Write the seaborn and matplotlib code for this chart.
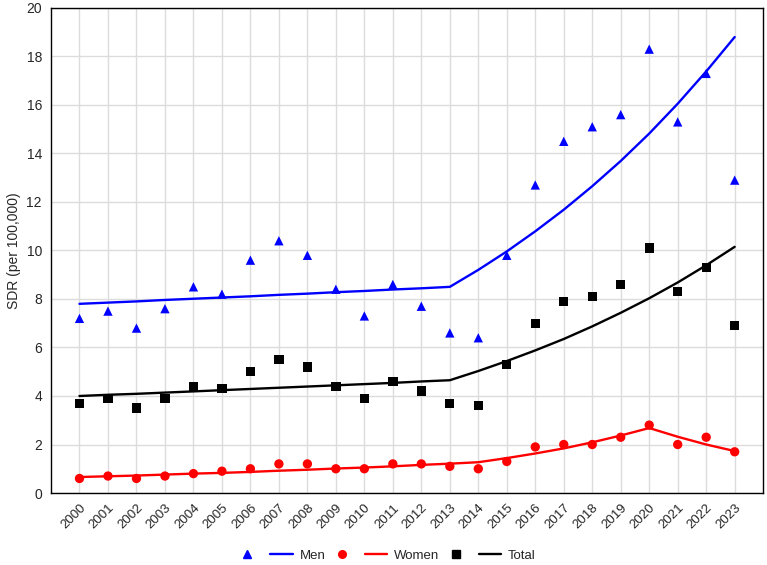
import numpy as np
import pandas as pd
import seaborn as sns
import matplotlib.pyplot as plt
from matplotlib.lines import Line2D

years = list(range(2000, 2024))

# observed SDR values
men = [7.2, 7.5, 6.8, 7.6, 8.5, 8.2, 9.6, 10.4, 9.8, 8.4, 7.3, 8.6,
       7.7, 6.6, 6.4, 9.8, 12.7, 14.5, 15.1, 15.6, 18.3, 15.3, 17.3, 12.9]
women = [0.6, 0.7, 0.6, 0.7, 0.8, 0.9, 1.0, 1.2, 1.2, 1.0, 1.0, 1.2,
         1.2, 1.1, 1.0, 1.3, 1.9, 2.0, 2.0, 2.3, 2.8, 2.0, 2.3, 1.7]
total = [3.7, 3.9, 3.5, 3.9, 4.4, 4.3, 5.0, 5.5, 5.2, 4.4, 3.9, 4.6,
         4.2, 3.7, 3.6, 5.3, 7.0, 7.9, 8.1, 8.6, 10.1, 8.3, 9.3, 6.9]

# fitted (joinpoint) values
men_fit = [7.80, 7.85, 7.90, 7.96, 8.01, 8.06, 8.11, 8.17, 8.22, 8.28, 8.33, 8.39,
           8.44, 8.50, 9.20, 9.96, 10.79, 11.68, 12.65, 13.69, 14.82, 16.05, 17.38, 18.80]
women_fit = [0.66, 0.69, 0.72, 0.76, 0.80, 0.83, 0.87, 0.92, 0.96, 1.01, 1.05, 1.10,
             1.16, 1.21, 1.27, 1.44, 1.63, 1.84, 2.09, 2.37, 2.68, 2.32, 2.00, 1.73]
total_fit = [4.00, 4.05, 4.09, 4.14, 4.19, 4.24, 4.29, 4.34, 4.39, 4.44, 4.49, 4.54,
             4.60, 4.65, 5.03, 5.44, 5.88, 6.35, 6.87, 7.43, 8.03, 8.68, 9.39, 10.15]

groups = ["Men", "Women", "Total"]
colors = {"Men": "#0000FF", "Women": "#FF0000", "Total": "#000000"}
markers = {"Men": "^", "Women": "o", "Total": "s"}

df = pd.DataFrame({
    "Year": years * 3,
    "Group": np.repeat(groups, len(years)),
    "SDR": men + women + total,
    "Fit": men_fit + women_fit + total_fit,
})

sns.set_style("white")
plt.rcParams["font.family"] = ["Liberation Sans", "DejaVu Sans"]

fig = plt.figure(figsize=(7.67, 5.65), dpi=100)
ax = fig.add_axes([0.0665, 0.1274, 0.9285, 0.8586])

sns.scatterplot(data=df, x="Year", y="SDR", hue="Group", style="Group",
                palette=colors, markers=markers, s=45, edgecolor="none",
                legend=False, ax=ax, zorder=3)
sns.lineplot(data=df, x="Year", y="Fit", hue="Group", palette=colors,
             linewidth=1.7, legend=False, ax=ax, zorder=2)

ax.set_xlim(1999, 2024)
ax.set_ylim(0, 20)
ax.set_xticks(years)
ax.set_xticklabels([str(y) for y in years], rotation=45, ha="right",
                   rotation_mode="anchor", fontsize=9.5)
ax.set_yticks(range(0, 21, 2))
ax.tick_params(axis="y", labelsize=10)
ax.tick_params(axis="both", direction="out", length=3, color="black")
ax.set_xlabel("")
ax.set_ylabel("SDR (per 100,000)", fontsize=10)
ax.grid(True, color="#dcdcdc", linewidth=1)
for s in ax.spines.values():
    s.set_color("black")
    s.set_linewidth(1)

handles, labels = [], []
for g in groups:
    handles.append(Line2D([], [], marker=markers[g], color=colors[g],
                          linestyle="none", markersize=5.5))
    labels.append("")
    handles.append(Line2D([], [], color=colors[g], linewidth=1.7))
    labels.append(g)
fig.legend(handles, labels, ncol=6, loc="center", bbox_to_anchor=(0.503, 0.016),
           frameon=False, fontsize=9.5, handlelength=1.7, columnspacing=0.4,
           handletextpad=0.5)

fig.savefig("out.png", dpi=100)
